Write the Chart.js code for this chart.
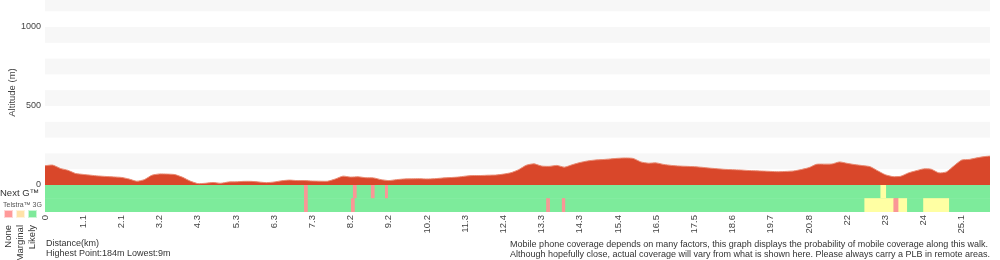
<!DOCTYPE html>
<html>
<head>
<meta charset="utf-8">
<script src="https://cdn.jsdelivr.net/npm/chart.js@4"></script>
<style>
  html, body { margin: 0; padding: 0; background: #fff; }
  #wrap { width: 1000px; height: 260px; }
</style>
</head>
<body>
<div id="wrap"><canvas id="chart-1" width="1000" height="260"></canvas></div>
<script>
// distance labels shown under every 5th profile sample
const distTicks = ["0", "1.1", "2.1", "3.2", "4.3", "5.3", "6.3", "7.3", "8.2", "9.2", "10.2", "11.3",
    "12.4", "13.3", "14.3", "15.4", "16.5", "17.5", "18.6", "19.7", "20.8", "22", "23", "24", "25.1"];
const samplesPerTick = 5;

// altitude (m) along the walk, one value per profile sample
const elevation = [
    122, 126, 105, 93, 73, 67, 62, 57, 54, 51,
    48, 38, 24, 34, 62, 70, 69, 66, 49, 25,
    9, 11, 16, 11, 19, 20, 23, 23, 19, 15,
    19, 27, 31, 28, 28, 25, 24, 24, 38, 56,
    50, 52, 46, 45, 34, 28, 34, 38, 39, 40,
    38, 40, 44, 47, 50, 56, 60, 60, 62, 63,
    69, 78, 97, 125, 134, 120, 118, 124, 113, 128,
    142, 152, 158, 161, 165, 169, 171, 168, 146, 138,
    140, 130, 124, 120, 118, 116, 112, 107, 103, 99,
    97, 95, 92, 90, 88, 86, 84, 86, 89, 98,
    110, 131, 132, 133, 146, 137, 129, 123, 116, 90,
    65, 53, 55, 76, 90, 102, 100, 77, 83, 122,
    158, 162, 172, 180, 184
];
const altitudeTicks = [0, 500, 1000];

// coverage runs: [from sample, to sample, level]
const coverageRows = ["Next G™", "Telstra™ 3G"];
const nextG = [
    [0, 123.7, "likely"], [33.95, 34.35, "none"], [40.35, 40.75, "none"], [42.7, 43.1, "none"],
    [44.55, 44.85, "none"], [109.4, 110.05, "marginal"]
];
const telstra3G = [
    [0, 123.7, "likely"], [33.95, 34.35, "none"], [40.1, 40.5, "none"], [65.65, 65.8, "none"],
    [65.9, 66.05, "none"], [67.7, 68.05, "none"], [107.3, 111.1, "marginal"], [111.1, 111.75, "none"],
    [111.75, 112.8, "marginal"], [115, 118.3, "marginal"]
];
const levelNames = ["None", "Marginal", "Likely"];
const levelColors = { none: "#fa9696", marginal: "#ffffa3", likely: "#7deb9b" };
const swatchColors = ["#ff9a9a", "#ffe2a8", "#7ee99a"];

const coverageNote = [
    "Mobile phone coverage depends on many factors, this graph displays the probability of mobile coverage along this walk.",
    "Although hopefully close, actual coverage will vary from what is shown here. Please always carry a PLB in remote areas."
];

const coverageBars = [];
nextG.forEach(r => coverageBars.push({ y: coverageRows[0], x: [r[0], r[1]], level: r[2] }));
telstra3G.forEach(r => coverageBars.push({ y: coverageRows[1], x: [r[0], r[1]], level: r[2] }));

Chart.defaults.font.family = "'Liberation Sans', Arial, sans-serif";
Chart.defaults.color = "#444";

// light grey stripe every other 100 m
const altitudeBands = {
    id: "altitudeBands",
    beforeDatasetsDraw(chart) {
        const y = chart.scales.y;
        const { left, right } = chart.chartArea;
        const ctx = chart.ctx;
        ctx.save();
        ctx.fillStyle = "#f7f7f7";
        for (let v = 100; v < y.max; v += 200) {
            const top = Math.max(0, y.getPixelForValue(v + 100));
            const bottom = y.getPixelForValue(v);
            ctx.fillRect(left, top, right - left, bottom - top);
        }
        ctx.restore();
    }
};

// coverage legend on the left, notes under the axis
const sideNotes = {
    id: "sideNotes",
    afterDraw(chart) {
        const ctx = chart.ctx;
        const font = "'Liberation Sans', Arial, sans-serif";
        ctx.save();
        ctx.fillStyle = "#333";
        ctx.textBaseline = "alphabetic";
        ctx.font = "9.5px " + font;
        ctx.fillText(coverageRows[0], 0, 196);
        ctx.font = "7px " + font;
        ctx.fillStyle = "#555";
        ctx.fillText(coverageRows[1], 3, 207);

        swatchColors.forEach((c, i) => {
            const x = 4 + i * 12;
            ctx.fillStyle = c;
            ctx.fillRect(x, 210, 9, 8);
            ctx.strokeStyle = "rgba(255,255,255,0.6)";
            ctx.lineWidth = 1;
            ctx.strokeRect(x + 0.5, 210.5, 8, 7);
        });

        ctx.fillStyle = "#333";
        ctx.font = "9.5px " + font;
        levelNames.forEach((name, i) => {
            ctx.save();
            ctx.translate(8.5 + i * 12, 225);
            ctx.rotate(-Math.PI / 2);
            ctx.textAlign = "right";
            ctx.textBaseline = "middle";
            ctx.fillText(name, 0, 0);
            ctx.restore();
        });

        const hi = Math.max(...elevation), lo = Math.min(...elevation);
        ctx.font = "9px " + font;
        ctx.textAlign = "left";
        ctx.fillText("Distance(km)", 46, 246);
        ctx.fillText("Highest Point:" + hi + "m Lowest:" + lo + "m", 46, 256);

        ctx.textAlign = "center";
        ctx.fillText(coverageNote[0], 749, 247);
        ctx.fillText(coverageNote[1], 750, 257);
        ctx.restore();
    }
};

const ctx1 = document.getElementById("chart-1").getContext("2d");
const profileChart = new Chart(ctx1, {
    type: "line",
    data: {
        datasets: [
            {
                type: "line",
                label: "Altitude",
                data: elevation.map((e, i) => ({ x: i, y: e })),
                xAxisID: "x",
                yAxisID: "y",
                fill: "origin",
                backgroundColor: "#d9472a",
                borderColor: "#e98a72",
                borderWidth: 1,
                pointRadius: 0,
                tension: 0.2,
            },
            {
                type: "bar",
                label: "Coverage",
                indexAxis: "y",
                data: coverageBars,
                xAxisID: "x",
                yAxisID: "yc",
                backgroundColor: c => levelColors[c.raw.level],
                borderWidth: 0,
                barPercentage: 1,
                categoryPercentage: 1,
            },
        ],
    },
    options: {
        responsive: false,
        animation: false,
        devicePixelRatio: 1,
        layout: { padding: { top: 0, right: 10, bottom: 0, left: 0 } },
        plugins: { legend: { display: false }, tooltip: { enabled: false } },
        scales: {
            x: {
                type: "linear",
                min: 0,
                max: 123.7,
                offset: false,
                grid: { display: false, drawTicks: false, offset: false },
                border: { display: false },
                ticks: {
                    autoSkip: false,
                    minRotation: 90,
                    maxRotation: 90,
                    padding: 3,
                    color: "#444",
                    font: { size: 9.5 },
                    callback: (v, i) => distTicks[i],
                },
                afterBuildTicks: s => { s.ticks = distTicks.map((d, i) => ({ value: i * samplesPerTick })); },
                afterFit: s => { s.height = 48; s.paddingLeft = 0; s.paddingRight = 0; },
            },
            y: {
                type: "linear",
                position: "left",
                stack: "alt",
                stackWeight: 185,
                weight: 1,
                min: 0,
                max: 1171,
                grid: { display: false, drawTicks: false },
                border: { display: false },
                ticks: { padding: 4, color: "#444", font: { size: 9 }, callback: v => String(v) },
                title: {
                    display: true,
                    text: "Altitude (m)",
                    color: "#444",
                    font: { size: 9.5 },
                    padding: { top: 7, bottom: 0 },
                },
                afterBuildTicks: s => { s.ticks = altitudeTicks.map(v => ({ value: v })); },
                afterFit: s => { s.width = 45; s.paddingTop = 0; s.paddingBottom = 0; },
            },
            yc: {
                type: "category",
                labels: coverageRows,
                position: "left",
                stack: "alt",
                stackWeight: 27,
                weight: 0,
                offset: true,
                grid: { display: false, drawTicks: false },
                border: { display: false },
                ticks: { display: false },
            },
        },
    },
    plugins: [altitudeBands, sideNotes],
});
</script>
</body>
</html>
